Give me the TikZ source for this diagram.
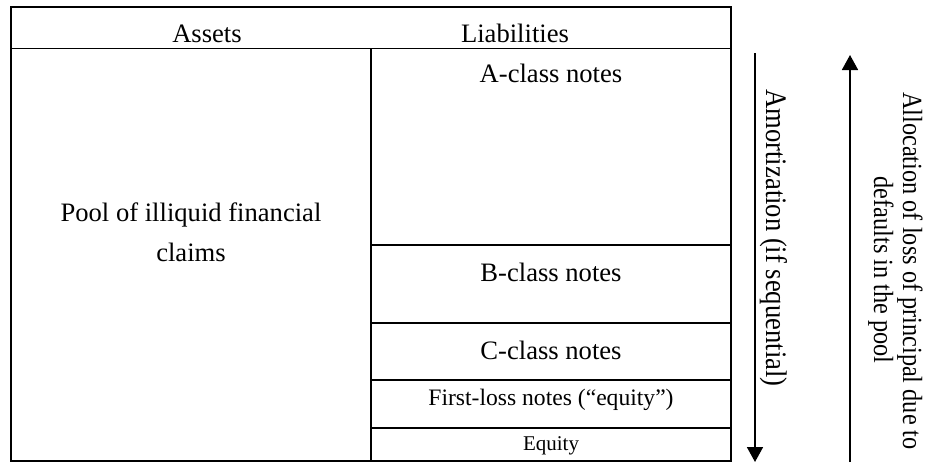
\documentclass[tikz,border=0pt]{standalone}
\usepackage{fontspec}
\setmainfont{Liberation Serif}
\usepackage{graphicx}
\usetikzlibrary{arrows.meta}
\tikzset{
  frame/.style={line width=2pt},
  rule/.style={line width=1.6pt},
  lbl/.style={inner sep=0pt, anchor=base, font=\fontsize{26.6}{32}\selectfont},
  smalllbl/.style={inner sep=0pt, anchor=base, font=\fontsize{23.6}{28}\selectfont},
  tinylbl/.style={inner sep=0pt, anchor=base, font=\fontsize{21}{25}\selectfont},
  vlbl/.style={inner sep=0pt, anchor=base, rotate=-90, font=\fontsize{26.6}{32}\selectfont},
  vsmall/.style={inner sep=0pt, anchor=base, rotate=-90, font=\fontsize{24.3}{29}\selectfont},
  flow/.style={line width=1.7pt, -{Triangle[width=16pt,length=15pt]}},
}
\begin{document}
\begin{tikzpicture}[x=1pt,y=-1pt]
\useasboundingbox[fill=white] (0,0) rectangle (927,464);
% table frame
\draw[frame] (11,7) rectangle (731,461);
\draw[rule] (11,48.5) -- (731,48.5);
\draw[rule] (371,48.5) -- (371,461);
\draw[rule] (371,245) -- (731,245);
\draw[rule] (371,323) -- (731,323);
\draw[rule] (371,380) -- (731,380);
\draw[rule] (371,428) -- (731,428);
% header
\node[lbl] (assets) at (207,42) {Assets};
\node[lbl] (liab) at (515,42) {Liabilities};
% assets
\node[lbl] (pool1) at (191,221.7) {Pool of illiquid financial};
\node[lbl] (pool2) at (191,261.7) {claims};
% liabilities
\node[lbl] (aclass) at (551,82) {A-class notes};
\node[lbl] (bclass) at (551,281.7) {B-class notes};
\node[lbl] (cclass) at (551,359.3) {C-class notes};
\node[smalllbl] (first) at (551,405) {First-loss notes (“equity”)};
\node[tinylbl] (equity) at (551,450.7) {Equity};
% arrows
\coordinate (amtop) at (755,53);
\coordinate (ambot) at (755,462);
\draw[flow] (amtop) -- (ambot);
\coordinate (albot) at (850,462);
\coordinate (altop) at (850,55);
\draw[flow] (albot) -- (altop);
% rotated labels
\node[vlbl] (amort) at (766,238) {\scalebox{1}[1.12]{Amortization (if sequential)}};
\node[vsmall] (alloc1) at (903,271) {\scalebox{1}[1.14]{Allocation of loss of principal due to}};
\node[vsmall] (alloc2) at (874,270) {\scalebox{1}[1.14]{defaults in the pool}};
\end{tikzpicture}
\end{document}
